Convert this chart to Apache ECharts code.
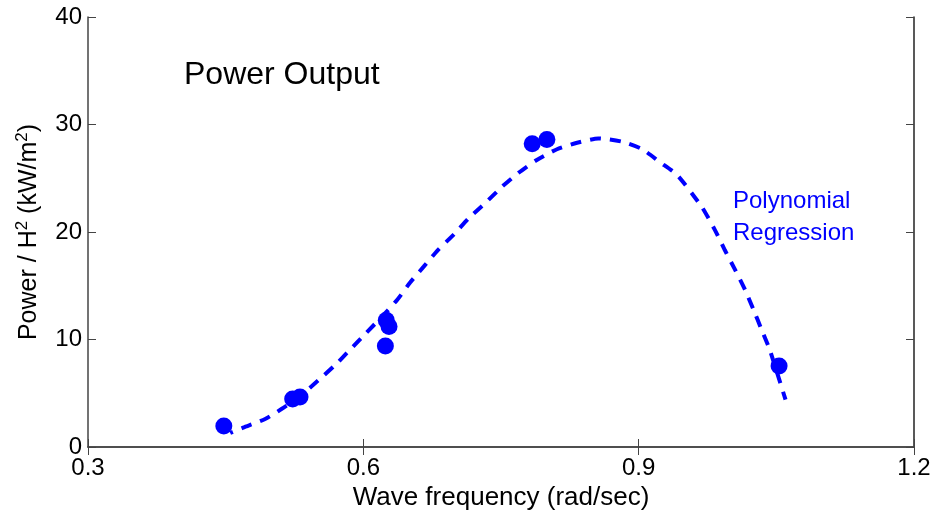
<!DOCTYPE html>
<html>
<head>
<meta charset="utf-8">
<script src="https://cdn.jsdelivr.net/npm/echarts@6/dist/echarts.min.js"></script>
<style>
html,body{margin:0;padding:0;background:#fff;}
#c{width:939px;height:512px;}
</style>
</head>
<body>
<div id="c"></div>
<script>
// Measured data points (wave frequency rad/sec, power/H^2 kW/m^2)
var pointX = [0.448, 0.523, 0.531, 0.625, 0.628, 0.624, 0.784, 0.800, 1.053];
var pointY = [1.96, 4.47, 4.66, 11.8, 11.2, 9.4, 28.2, 28.6, 7.54];

// Polynomial regression curve
var curveX = [0.455, 0.469, 0.493, 0.512, 0.532, 0.551, 0.569, 0.585, 0.603, 0.620, 0.637, 0.651, 0.666, 0.681, 0.699, 0.715, 0.733, 0.751, 0.769, 0.789, 0.811, 0.833, 0.856, 0.882, 0.904, 0.923, 0.942, 0.969, 0.983, 0.994, 1.005, 1.016, 1.025, 1.034, 1.043, 1.060];
var curveY = [1.3, 1.8, 2.6, 3.6, 4.8, 6.2, 7.6, 9.0, 10.6, 12.1, 13.7, 15.3, 16.8, 18.3, 19.8, 21.3, 22.7, 24.2, 25.5, 26.7, 27.7, 28.3, 28.7, 28.4, 27.7, 26.5, 25.3, 22.3, 20.2, 18.3, 16.5, 14.6, 12.8, 10.9, 9.0, 4.4];

var xTicks = [0.3, 0.6, 0.9, 1.2];
var yTicks = [0, 10, 20, 30, 40];

var titleText = 'Power Output';
var regText = 'Polynomial\nRegression';

var FONT = '"Liberation Sans", Arial, sans-serif';
var AX = '#444';

var chart = echarts.init(document.getElementById('c'), null, {renderer: 'canvas'});

function zip(a, b) { return a.map(function (v, i) { return [v, b[i]]; }); }

var option = {
  animation: false,
  backgroundColor: '#fff',
  title: [
    {text: titleText, left: 179, top: 54, textStyle: {fontFamily: FONT, fontSize: 32, fontWeight: 'normal', color: '#000'}},
    {text: regText, left: 728, top: 180, textStyle: {fontFamily: FONT, fontSize: 24, fontWeight: 'normal', color: '#0000ff', lineHeight: 32}}
  ],
  grid: {left: 88, right: 25, top: 17, bottom: 65, containLabel: false, outerBoundsMode: 'none'},
  xAxis: [
    {
      type: 'value', min: 0.3, max: 1.2, interval: 0.3, position: 'bottom',
      name: 'Wave frequency (rad/sec)', nameLocation: 'middle', nameGap: 36,
      nameTextStyle: {fontFamily: FONT, fontSize: 26, color: '#000'},
      axisLine: {show: true, lineStyle: {color: AX, width: 1.5}},
      axisTick: {show: true, inside: true, length: 8, lineStyle: {color: AX}},
      axisLabel: {fontFamily: FONT, fontSize: 24, color: '#000', margin: 9,
        formatter: function (v) { return xTicks.indexOf(Math.round(v*10)/10) >= 0 ? v.toFixed(1) : ''; }},
      splitLine: {show: false}
    },
    {
      type: 'value', min: 0.3, max: 1.2, interval: 0.3, position: 'top',
      axisLine: {show: true, lineStyle: {color: AX, width: 1.5}},
      axisTick: {show: true, inside: true, length: 8, lineStyle: {color: AX}},
      axisLabel: {show: false}, splitLine: {show: false}
    }
  ],
  yAxis: [
    {
      type: 'value', min: 0, max: 40, interval: 10, position: 'left',
      name: 'Power / H{sup|2} (kW/m{sup|2})', nameLocation: 'middle', nameGap: 44, nameRotate: 90,
      nameTextStyle: {fontFamily: FONT, fontSize: 25, color: '#000', lineHeight: 30,
        rich: {sup: {fontFamily: FONT, fontSize: 17, verticalAlign: 'top', lineHeight: 22, color: '#000'}}},
      axisLine: {show: true, lineStyle: {color: AX, width: 1.5}},
      axisTick: {show: true, inside: true, length: 8, lineStyle: {color: AX}},
      axisLabel: {fontFamily: FONT, fontSize: 24, color: '#000', margin: 6,
        formatter: function (v) { return yTicks.indexOf(v) >= 0 ? String(v) : ''; }},
      splitLine: {show: false}
    },
    {
      type: 'value', min: 0, max: 40, interval: 10, position: 'right',
      axisLine: {show: true, lineStyle: {color: '#222', width: 1.5}},
      axisTick: {show: true, inside: true, length: 8, lineStyle: {color: AX}},
      axisLabel: {show: false}, splitLine: {show: false}
    }
  ],
  series: [
    {
      type: 'line', xAxisIndex: 0, yAxisIndex: 0,
      data: zip(curveX, curveY), smooth: 0.2, showSymbol: false, symbol: 'none',
      lineStyle: {color: '#0000ff', width: 4, type: [11, 9], dashOffset: 8, cap: 'butt'},
      z: 2
    },
    {
      type: 'scatter', xAxisIndex: 0, yAxisIndex: 0,
      data: zip(pointX, pointY), symbol: 'circle', symbolSize: 17,
      itemStyle: {color: '#0000ff', opacity: 1},
      z: 3
    }
  ]
};
chart.setOption(option);
</script>
</body>
</html>
